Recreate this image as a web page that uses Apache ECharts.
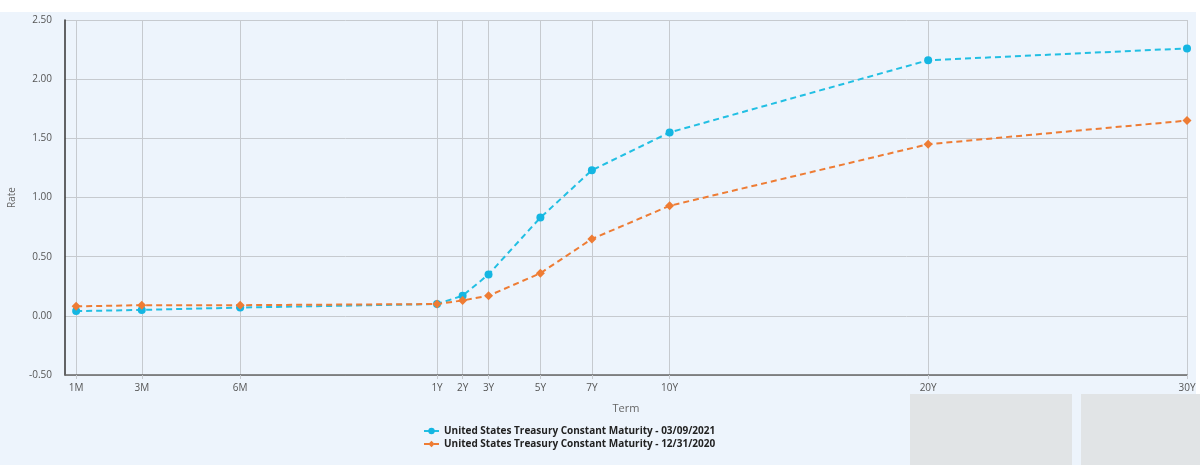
<!DOCTYPE html>
<html>
<head>
<meta charset="utf-8">
<style>
  html, body { margin: 0; padding: 0; background: #ffffff; }
  #chart { width: 1200px; height: 465px; }
</style>
<script src="https://cdn.jsdelivr.net/npm/echarts@6/dist/echarts.min.js"></script>
</head>
<body>
<div id="chart"></div>
<script>
// term labels and where they sit on the (non-linear) term axis
const terms = ['1M', '3M', '6M', '1Y', '2Y', '3Y', '5Y', '7Y', '10Y', '20Y', '30Y'];
const termPos = [1, 3, 6, 12, 12.78, 13.57, 15.15, 16.72, 19.09, 26.97, 34.86];

// yields in percent
const rates20210309 = [0.04, 0.05, 0.07, 0.10, 0.17, 0.35, 0.83, 1.23, 1.55, 2.16, 2.26];
const rates20201231 = [0.08, 0.09, 0.09, 0.10, 0.13, 0.17, 0.36, 0.65, 0.93, 1.45, 1.65];

const seriesNames = [
  'United States Treasury Constant Maturity - 03/09/2021',
  'United States Treasury Constant Maturity - 12/31/2020'
];

const chart = echarts.init(document.getElementById('chart'));

function pairs(vals) {
  return vals.map((v, i) => [termPos[i], v]);
}

function termLabel(val) {
  let best = 0;
  termPos.forEach((p, i) => {
    if (Math.abs(p - val) < Math.abs(termPos[best] - val)) best = i;
  });
  return terms[best];
}

const option = {
  backgroundColor: '#ffffff',
  animation: false,
  textStyle: { fontFamily: 'Open Sans, DejaVu Sans, sans-serif' },
  graphic: [
    { type: 'rect', z: -10, shape: { x: 0, y: 12, width: 1196, height: 453 }, style: { fill: '#edf4fc' } },
    { type: 'rect', z: 10, shape: { x: 910, y: 394, width: 162, height: 71 }, style: { fill: '#e1e4e6' } },
    { type: 'rect', z: 10, shape: { x: 1081, y: 394, width: 119, height: 71 }, style: { fill: '#e1e4e6' } }
  ],
  grid: { left: 65, right: 13, top: 20, bottom: 90, outerBoundsMode: 'none' },
  legend: {
    orient: 'vertical',
    left: 423,
    top: 426,
    padding: 0,
    itemWidth: 15,
    itemHeight: 8,
    itemGap: 3,
    textStyle: { fontSize: 10, fontWeight: 'bold', color: '#222' },
    data: seriesNames
  },
  xAxis: {
    type: 'value',
    min: 0.66,
    max: 34.86,
    name: 'Term',
    nameLocation: 'middle',
    nameGap: 28,
    nameTextStyle: { fontSize: 11, color: '#666' },
    axisLine: { show: true, onZero: false, lineStyle: { color: '#666', width: 1.5 } },
    axisTick: { show: true, length: 4, lineStyle: { color: '#c6cacf' }, customValues: termPos },
    axisLabel: {
      customValues: termPos,
      fontSize: 10,
      color: '#555',
      margin: 8,
      formatter: termLabel
    },
    splitLine: { show: true, lineStyle: { color: '#c6cacf' } }
  },
  yAxis: {
    type: 'value',
    min: -0.5,
    max: 2.5,
    interval: 0.5,
    name: 'Rate',
    nameLocation: 'middle',
    nameGap: 48,
    nameTextStyle: { fontSize: 10, color: '#666' },
    axisLine: { show: true, lineStyle: { color: '#333', width: 1.5 } },
    axisTick: { show: false },
    axisLabel: {
      fontSize: 10,
      color: '#555',
      margin: 13,
      formatter: v => v.toFixed(2)
    },
    splitLine: { lineStyle: { color: '#c6cacf' } }
  },
  series: [
    {
      name: seriesNames[0],
      type: 'line',
      data: pairs(rates20210309),
      symbol: 'circle',
      symbolSize: 8,
      itemStyle: { color: '#14b6e2' },
      lineStyle: { color: '#22bfe3', width: 2, type: [6, 4] }
    },
    {
      name: seriesNames[1],
      type: 'line',
      data: pairs(rates20201231),
      symbol: 'diamond',
      symbolSize: 9,
      itemStyle: { color: '#ee7c34' },
      lineStyle: { color: '#ee7c34', width: 2, type: [6, 4] }
    }
  ]
};

chart.setOption(option);
</script>
</body>
</html>
